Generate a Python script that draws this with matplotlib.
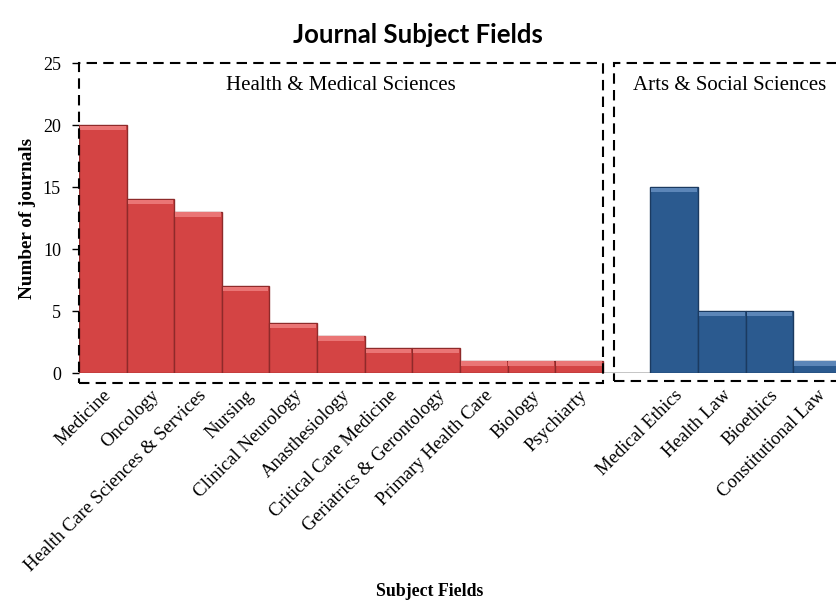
import numpy as np
import matplotlib
matplotlib.use('Agg')
import matplotlib.pyplot as plt
from matplotlib.patches import Rectangle

# ---- data ----
HEALTH_FIELDS = ['Medicine', 'Oncology', 'Health Care Sciences & Services', 'Nursing',
                 'Clinical Neurology', 'Anasthesiology', 'Critical Care Medicine',
                 'Geriatrics & Gerontology', 'Primary Health Care', 'Biology', 'Psychiarty']
HEALTH_COUNTS = [20, 14, 13, 7, 4, 3, 2, 2, 1, 1, 1]
ARTS_FIELDS = ['Medical Ethics', 'Health Law', 'Bioethics', 'Constitutional Law']
ARTS_COUNTS = [15, 5, 5, 1]

RED, RED_EDGE, RED_TOP = '#d44444', '#8e2a2a', '#ea7575'
BLUE, BLUE_EDGE, BLUE_TOP = '#2b5a8f', '#1b3a60', '#5c86b8'
SERIF = 'Liberation Serif'

fig = plt.figure(figsize=(8.37, 6.07), dpi=100)
ax = fig.add_axes([79 / 837, 1 - 373 / 607, 1 - 79 / 837, 310 / 607])

x_h = np.arange(len(HEALTH_FIELDS))
x_a = np.arange(len(ARTS_FIELDS)) + len(HEALTH_FIELDS) + 1   # one empty slot between groups


def bevel_bars(x, vals, face, edge, top):
    ax.bar(x, vals, width=1.0, color=face, edgecolor=edge, linewidth=1.0, zorder=2)
    # lighter strip along the top to mimic the bevelled look
    ax.bar(x, [0.35] * len(vals), width=0.96, bottom=np.array(vals) - 0.4,
           color=top, linewidth=0, zorder=3)


bevel_bars(x_h, HEALTH_COUNTS, RED, RED_EDGE, RED_TOP)
bevel_bars(x_a, ARTS_COUNTS, BLUE, BLUE_EDGE, BLUE_TOP)

ax.set_xlim(-0.5, 15.42)
ax.set_ylim(0, 25)
ax.axhline(0, color='#bbbbbb', lw=1.2, zorder=1)

for s in ax.spines.values():
    s.set_visible(False)

ax.set_yticks(range(0, 26, 5))
ax.tick_params(axis='y', length=5, width=1, labelsize=13, pad=8)
for lab in ax.get_yticklabels():
    lab.set_fontfamily(SERIF)

ax.set_xticks(list(x_h) + list(x_a))
ax.set_xticklabels(HEALTH_FIELDS + ARTS_FIELDS, rotation=45, ha='right',
                   rotation_mode='anchor', family=SERIF, fontsize=13.5)
ax.tick_params(axis='x', length=0, pad=10)

# dashed group boxes
ax.add_patch(Rectangle((-0.5, -0.8), 11.0, 25.8, fill=False, ls=(0, (5, 3)),
                       lw=1.5, ec='black', clip_on=False, zorder=4))
ax.add_patch(Rectangle((10.74, -0.65), 6.0, 25.65, fill=False, ls=(0, (5, 3)),
                       lw=1.5, ec='black', clip_on=False, zorder=4))
ax.text(5.0, 23.2, 'Health & Medical Sciences', ha='center', va='center',
        family=SERIF, fontsize=15)
ax.text(13.17, 23.2, 'Arts & Social Sciences', ha='center', va='center',
        family=SERIF, fontsize=15)

ax.set_ylabel('Number of journals', family=SERIF, fontweight='bold', fontsize=13.8)
ax.yaxis.set_label_coords(-0.057, 0.497)
fig.text(430 / 837, 1 - 592 / 607, 'Subject Fields', ha='center', va='center',
         family=SERIF, fontweight='bold', fontsize=12.8)
fig.text(418 / 837, 1 - 35 / 607, 'Journal Subject Fields', ha='center', va='center',
         family='Lato', fontweight='bold', fontsize=18.5)

fig.savefig('out.png', dpi=100)
